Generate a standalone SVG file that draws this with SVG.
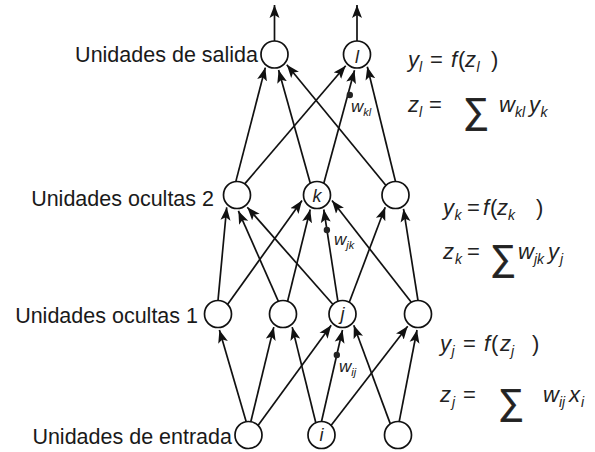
<svg xmlns="http://www.w3.org/2000/svg" width="595" height="452" viewBox="0 0 595 452">
<defs>
<marker id="ah" viewBox="0 -5.5 14 11" refX="13" refY="0" markerWidth="14" markerHeight="11" markerUnits="userSpaceOnUse" orient="auto">
<path d="M0,-5 L13,0 L0,5 L3,0 z" fill="#111"/>
</marker>
<style>
.lbl{font-family:"Liberation Sans",Arial,sans-serif;font-size:21.5px;fill:#1a1a1a}
.eq{font-family:"Liberation Sans",Arial,sans-serif;font-size:22px;fill:#222}
.it{font-style:italic}
.sub{font-size:14px;font-style:italic}
.sig{font-size:36px;font-style:normal;stroke:#222;stroke-width:0.7}
.nl{font-family:"Liberation Sans",Arial,sans-serif;font-size:18px;font-style:italic;fill:#222;text-anchor:middle}
.wl{font-family:"Liberation Sans",Arial,sans-serif;font-size:17px;font-style:italic;fill:#222}
.ws{font-size:11px}
.node circle{fill:#fff;stroke:#111;stroke-width:1.7}
#connectors line{stroke:#111;stroke-width:1.7;marker-end:url(#ah)}
.dot{fill:#222}
</style>
</defs>
<rect width="595" height="452" fill="#fff"/>
<g id="connectors">
<line x1="274.5" y1="41" x2="274.5" y2="5"/>
<line x1="357" y1="41" x2="357" y2="5"/>
<line x1="235.8" y1="181.6" x2="265.3" y2="67.6"/>
<line x1="244.7" y1="183.9" x2="345.7" y2="65.8"/>
<line x1="310.3" y1="183.3" x2="278.6" y2="70"/>
<line x1="323.8" y1="183.3" x2="354.5" y2="70.3"/>
<line x1="386" y1="185.5" x2="286.8" y2="64.8"/>
<line x1="395.5" y1="181.5" x2="367.3" y2="66.8"/>
<line x1="218" y1="300.5" x2="226.7" y2="207.3"/>
<line x1="227.5" y1="304.5" x2="302" y2="200.5"/>
<line x1="278.4" y1="301.3" x2="238.4" y2="210.9"/>
<line x1="287.6" y1="301.3" x2="310.2" y2="209.5"/>
<line x1="333" y1="304.5" x2="247.3" y2="207.3"/>
<line x1="337.9" y1="301.3" x2="323.8" y2="209.5"/>
<line x1="349.3" y1="302.3" x2="385.2" y2="207.3"/>
<line x1="411.3" y1="302.3" x2="332" y2="200.5"/>
<line x1="418" y1="300.5" x2="403.5" y2="208.9"/>
<line x1="246.2" y1="421.7" x2="219.4" y2="329.9"/>
<line x1="250.8" y1="421.7" x2="273.8" y2="327.1"/>
<line x1="258" y1="425.5" x2="331.2" y2="325.3"/>
<line x1="315.8" y1="422.8" x2="292.2" y2="327.1"/>
<line x1="321.5" y1="421.5" x2="342.5" y2="330"/>
<line x1="331" y1="425.5" x2="407.7" y2="326.3"/>
<line x1="390.3" y1="423.9" x2="353.8" y2="325.3"/>
<line x1="399.2" y1="421.6" x2="417" y2="330"/>
</g>
<g id="out1" class="node"><circle cx="274.5" cy="54.5" r="13.5"/></g>
<g id="out-l" class="node"><circle cx="357" cy="54.5" r="13.5"/><text class="nl" x="357" y="63">l</text></g>
<g id="h2-1" class="node"><circle cx="237" cy="195" r="13.5"/></g>
<g id="h2-k" class="node"><circle cx="317" cy="195" r="13.5"/><text class="nl" x="317" y="202">k</text></g>
<g id="h2-3" class="node"><circle cx="395.5" cy="195" r="13.5"/></g>
<g id="h1-1" class="node"><circle cx="218" cy="314" r="13.5"/></g>
<g id="h1-2" class="node"><circle cx="283" cy="314" r="13.5"/></g>
<g id="h1-j" class="node"><circle cx="342.5" cy="314" r="13.5"/><text class="nl" x="342.5" y="320">j</text></g>
<g id="h1-4" class="node"><circle cx="418" cy="314" r="13.5"/></g>
<g id="in1" class="node"><circle cx="248.5" cy="435" r="13.5"/></g>
<g id="in-i" class="node"><circle cx="321.5" cy="435" r="13.5"/><text class="nl" x="321.5" y="441">i</text></g>
<g id="in3" class="node"><circle cx="398" cy="435" r="13.5"/></g>
<g id="weights">
<circle class="dot" cx="349.8" cy="95" r="3.2"/>
<text class="wl" x="351" y="112">w<tspan class="ws" dy="4">kl</tspan></text>
<circle class="dot" cx="326.9" cy="230" r="3.2"/>
<text class="wl" x="334" y="245">w<tspan class="ws" dy="4">jk</tspan></text>
<circle class="dot" cx="336.8" cy="355" r="3.2"/>
<text class="wl" x="339" y="372">w<tspan class="ws" dy="4">ij</tspan></text>
</g>
<g id="layer-labels">
<text class="lbl" x="258" y="62" text-anchor="end">Unidades de salida</text>
<text class="lbl" x="214" y="206" text-anchor="end">Unidades ocultas 2</text>
<text class="lbl" x="198" y="323" text-anchor="end">Unidades ocultas 1</text>
<text class="lbl" x="232" y="444" text-anchor="end">Unidades de entrada</text>
</g>
<g id="equations" class="eq">
<text><tspan class="it" x="408" y="67">y</tspan><tspan class="sub" x="419" y="72">l</tspan><tspan x="430" y="67">=</tspan><tspan class="it" x="451" y="67">f</tspan><tspan x="458" y="67">(</tspan><tspan class="it" x="465" y="67">z</tspan><tspan class="sub" x="476.5" y="72">l</tspan><tspan x="491" y="67">)</tspan></text>
<text><tspan class="it" x="408" y="112">z</tspan><tspan class="sub" x="419" y="117">l</tspan><tspan x="429" y="112">=</tspan><tspan class="sig" x="463" y="123">∑</tspan><tspan class="it" x="499" y="112">w</tspan><tspan class="sub" x="515" y="117">kl</tspan><tspan class="it" x="529" y="112">y</tspan><tspan class="sub" x="540.5" y="117">k</tspan></text>
<text><tspan class="it" x="443" y="215">y</tspan><tspan class="sub" x="454.5" y="220">k</tspan><tspan x="467" y="215">=</tspan><tspan class="it" x="483" y="215">f</tspan><tspan x="490" y="215">(</tspan><tspan class="it" x="497" y="215">z</tspan><tspan class="sub" x="508" y="220">k</tspan><tspan x="536" y="215">)</tspan></text>
<text><tspan class="it" x="443" y="259">z</tspan><tspan class="sub" x="455" y="264">k</tspan><tspan x="467" y="259">=</tspan><tspan class="sig" x="490" y="270">∑</tspan><tspan class="it" x="518" y="259">w</tspan><tspan class="sub" x="534" y="264">jk</tspan><tspan class="it" x="548" y="259">y</tspan><tspan class="sub" x="560" y="264">j</tspan></text>
<text><tspan class="it" x="440" y="351">y</tspan><tspan class="sub" x="451.5" y="356">j</tspan><tspan x="463" y="351">=</tspan><tspan class="it" x="484" y="351">f</tspan><tspan x="491" y="351">(</tspan><tspan class="it" x="500" y="351">z</tspan><tspan class="sub" x="511" y="356">j</tspan><tspan x="532" y="351">)</tspan></text>
<text><tspan class="it" x="440" y="402">z</tspan><tspan class="sub" x="452" y="407">j</tspan><tspan x="463" y="402">=</tspan><tspan class="sig" x="498" y="414">∑</tspan><tspan class="it" x="543" y="402">w</tspan><tspan class="sub" x="559" y="407">ij</tspan><tspan class="it" x="569" y="402">x</tspan><tspan class="sub" x="581" y="407">i</tspan></text>
</g>
</svg>
